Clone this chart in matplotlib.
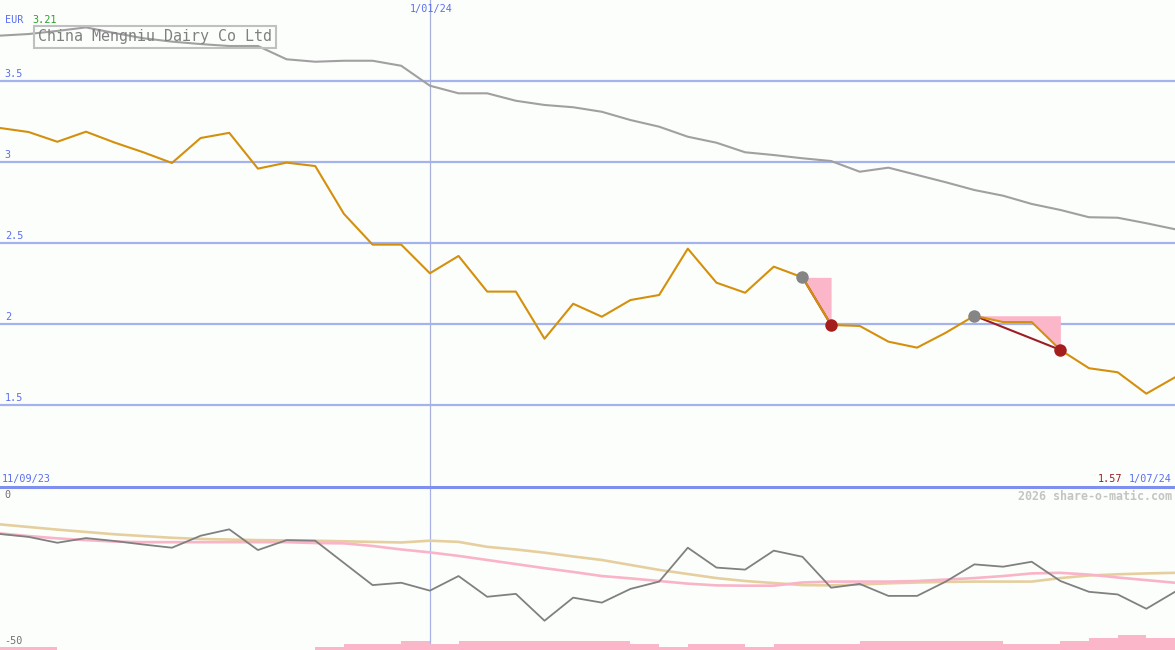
import matplotlib
matplotlib.use('Agg')
import matplotlib.pyplot as plt
from matplotlib.lines import Line2D
import numpy as np

# weekly closes, EUR
price = [3.21, 3.185, 3.125, 3.187, 3.12, 3.06, 2.994, 3.148, 3.18, 2.959,
         2.996, 2.975, 2.68, 2.49, 2.49, 2.313, 2.42, 2.20, 2.20, 1.909,
         2.125, 2.045, 2.148, 2.179, 2.465, 2.255, 2.193, 2.354, 2.288, 1.994,
         1.988, 1.891, 1.854, 1.946, 2.051, 2.012, 2.012, 1.84, 1.727, 1.702,
         1.57, 1.671]
# long moving average
avg = [3.780, 3.790, 3.809, 3.831, 3.796, 3.764, 3.743, 3.728, 3.716, 3.716,
       3.634, 3.619, 3.625, 3.625, 3.594, 3.471, 3.424, 3.424, 3.378, 3.352,
       3.338, 3.310, 3.259, 3.218, 3.156, 3.119, 3.060, 3.043, 3.023, 3.006,
       2.940, 2.965, 2.920, 2.875, 2.827, 2.792, 2.741, 2.704, 2.659, 2.656,
       2.622, 2.585]
# lower panel oscillator and its averages
osc = [-11.3, -12.3, -14.3, -12.7, -13.7, -14.9, -16.0, -11.9, -9.7, -16.8,
       -13.4, -13.6, -21.2, -28.8, -28.0, -30.7, -25.7, -32.8, -31.8, -41.0,
       -33.1, -34.8, -30.1, -27.6, -16.0, -22.8, -23.5, -17.0, -19.1, -29.7,
       -28.4, -32.5, -32.5, -27.6, -21.7, -22.5, -20.8, -27.4, -31.1, -32.0,
       -36.9, -31.1]
osc_slow = [-8.0, -8.9, -9.8, -10.6, -11.4, -12.0, -12.6, -13.0, -13.2, -13.4,
            -13.5, -13.6, -13.8, -14.0, -14.2, -13.6, -14.0, -15.7, -16.6, -17.7,
            -19.0, -20.2, -21.9, -23.6, -25.0, -26.4, -27.4, -28.1, -28.8, -28.9,
            -28.6, -28.2, -27.9, -27.7, -27.6, -27.6, -27.6, -26.4, -25.5, -25.1,
            -24.8, -24.6]
osc_mid = [-11.1, -12.0, -12.8, -13.4, -13.9, -14.1, -14.1, -14.1, -14.1, -14.1,
           -14.1, -14.4, -14.5, -15.4, -16.6, -17.6, -18.8, -20.2, -21.6, -23.0,
           -24.3, -25.7, -26.5, -27.4, -28.3, -28.9, -29.0, -29.0, -27.9, -27.6,
           -27.6, -27.6, -27.4, -26.9, -26.4, -25.7, -24.8, -24.6, -25.2, -26.2,
           -27.1, -28.0]
volume = [1, 1, 0, 0, 0, 0, 0, 0, 0, 0, 0, 1, 2, 2, 3, 2, 3, 3, 3, 3,
          3, 3, 2, 1, 2, 2, 1, 2, 2, 2, 3, 3, 3, 3, 3, 2, 2, 3, 4, 5, 4]
# sell signals: (start index, end index)
signals = [(28, 29), (34, 37)]
grid_levels = [1.5, 2, 2.5, 3, 3.5]
lower_levels = [0, -50]
start_label = '11/09/23'
mid_label = '1/01/24'
end_label = '1/07/24'
mid_idx = 15

W, H = 1175, 650
bg = '#fcfefc'
blue = '#5a6ef0'
gridblue = '#a4b2ee'
mono = 'DejaVu Sans Mono'

fig = plt.figure(figsize=(W / 100, H / 100), dpi=100, facecolor=bg)

def fx(x):
    return x / W

def fy(y):
    return 1 - y / H

split = 487
ax = fig.add_axes([0, fy(split), 1, split / H])
ax2 = fig.add_axes([0, 0, 1, (H - split) / H])
for a in (ax, ax2):
    a.set_facecolor('none')
    a.set_axis_off()

x = np.arange(len(price))
ax.set_xlim(0, len(price) - 1)
ax.set_ylim(4.0 - split / 162, 4.0)

for g in grid_levels:
    ax.axhline(g, color=gridblue, lw=1.6, zorder=1)
    ax.text(0.004, g + 0.015, '%g' % g, color=blue, fontsize=7.3,
            family=mono, transform=ax.get_yaxis_transform(), va='bottom', ha='left')

ax.axvline(mid_idx, color='#a8b0dc', lw=0.9, zorder=1)
ax.plot(x, avg, color='#a0a0a0', lw=1.5, zorder=2)

for s, e in signals:
    seg_x = x[s:e + 1]
    seg_y = np.array(price[s:e + 1])
    ax.fill_between(seg_x, price[s], seg_y, color='#fbb6ca', lw=0, zorder=2)
    ax.plot([s, e], [price[s], price[e]], color='#a01c24', lw=1.5, zorder=3)

ax.plot(x, price, color='#d4900c', lw=1.5, zorder=4)

for s, e in signals:
    ax.plot(s, price[s], 'o', color='#858585', ms=9, mec='none', zorder=5)
    ax.plot(e, price[e], 'o', color='#a51e1e', ms=9, mec='none', zorder=5)

# lower panel
ax2.set_xlim(0, len(price) - 1)
ax2.set_ylim(-(H - 501) / 2.92, (501 - split) / 2.92)
ax2.axvline(mid_idx, color='#a8b0e8', lw=0.9, zorder=1)
ax2.plot(x, osc_slow, color='#e6cf9f', lw=1.9, zorder=2)
ax2.plot(x, osc_mid, color='#f9b4c8', lw=1.9, zorder=2)
ax2.plot(x, osc, color='#808080', lw=1.3, zorder=3)
for v in lower_levels:
    ax2.text(0.004, v + 0.5, '%g' % v, color='#707070', fontsize=7.3, family=mono,
             transform=ax2.get_yaxis_transform(), va='bottom', ha='left')

axv = ax2.twinx()
axv.set_axis_off()
axv.set_ylim(0, (H - split) / 3)
axv.bar(np.arange(len(volume)) + 0.5, volume, width=1.0, color='#fbb6ca', lw=0, zorder=1)

# divider between panels
fig.add_artist(Line2D([0, 1], [fy(split), fy(split)], color='#7f8ff0', lw=2.2,
                      transform=fig.transFigure))

# texts
fig.text(fx(5), fy(20), 'EUR', color=blue, fontsize=7.3, family=mono, va='center')
fig.text(fx(32), fy(20), '%.2f' % price[0], color='#2ca02c',
         fontsize=7.3, family=mono, va='center')
fig.text(fx(155), fy(37), 'China Mengniu Dairy Co Ltd', color='#808080', fontsize=10.8,
         family=mono, ha='center', va='center',
         bbox=dict(boxstyle='square,pad=0.25', fc='none', ec='#c0c0c0', lw=1.5))
fig.text(fx(431), fy(9), mid_label, color=blue, fontsize=7.3, family=mono,
         ha='center', va='center')
fig.text(fx(2), fy(479), start_label, color=blue, fontsize=7.3, family=mono, va='center')
fig.text(fx(1172), fy(479), end_label, color=blue, fontsize=7.3, family=mono,
         ha='right', va='center')
fig.text(fx(1122), fy(479), '%.2f' % min(price), color='#a01c24', fontsize=7.3,
         family=mono, ha='right', va='center')
fig.text(fx(1172), fy(496), '2026 share-o-matic.com', color='#c4c4c4', fontsize=8.4,
         family=mono, ha='right', va='center', fontweight='bold')

fig.savefig('out.png', dpi=100, facecolor=bg)
